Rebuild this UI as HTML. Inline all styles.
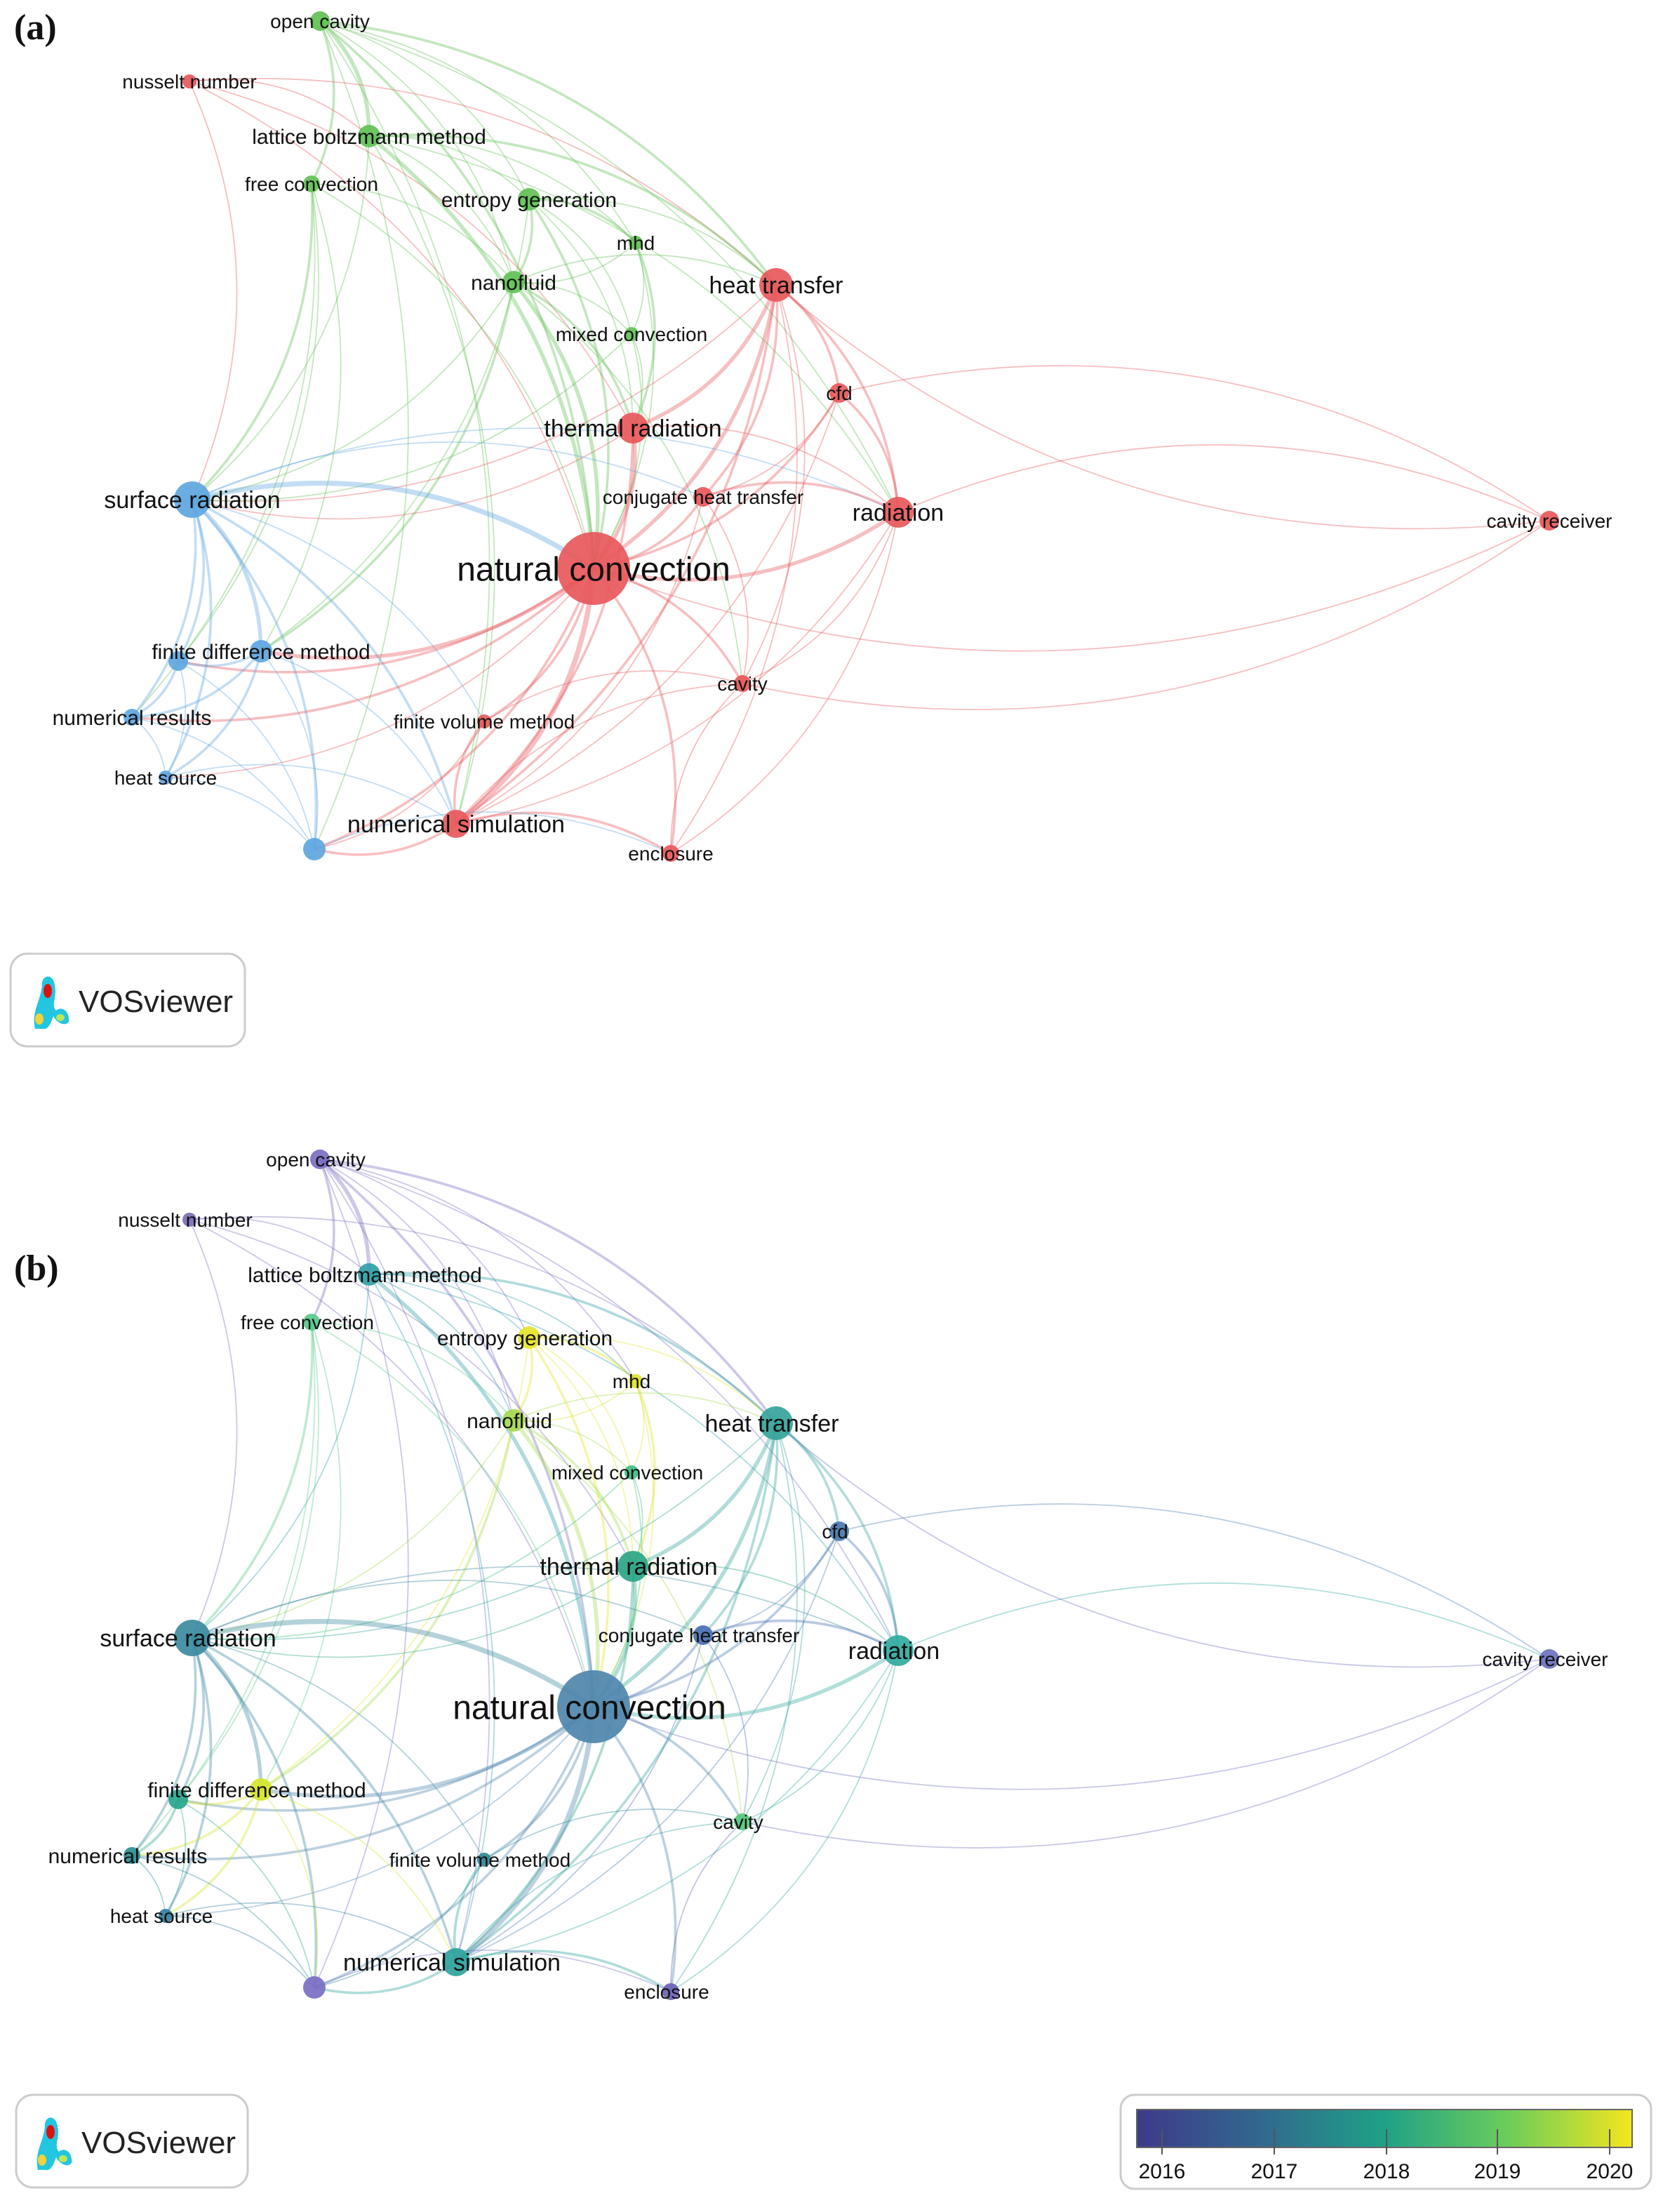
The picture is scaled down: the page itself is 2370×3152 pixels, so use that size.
<!DOCTYPE html>
<html><head><meta charset="utf-8">
<style>
html,body{margin:0;padding:0;background:#fff;}
svg{display:block;}
text{font-family:"Liberation Sans","DejaVu Sans",sans-serif;fill:#111;}
</style></head>
<body>
<svg id="s" width="2370" height="3152" viewBox="0 0 1185 1576" xmlns="http://www.w3.org/2000/svg">
<defs>
<linearGradient id="vir" x1="0" x2="1" y1="0" y2="0">
<stop offset="0" stop-color="#3e3a8a"/>
<stop offset="0.25" stop-color="#31688e"/>
<stop offset="0.5" stop-color="#1fa187"/>
<stop offset="0.75" stop-color="#6ccd5a"/>
<stop offset="1" stop-color="#f4e61e"/>
</linearGradient>
</defs>
<g id="edgesA"></g><g id="nodesA"></g>
<g id="edgesB"></g><g id="nodesB"></g>
<g id="labels"></g>
<text x="10" y="28" style="font-family:'Liberation Serif',serif;font-weight:bold;font-size:26px">(a)</text>
<text x="10" y="912" style="font-family:'Liberation Serif',serif;font-weight:bold;font-size:26px">(b)</text>
<!-- logos -->
<g>
<rect x="7.5" y="679.5" width="167" height="66" rx="12" fill="#fff" stroke="#ccc" stroke-width="1.5"/>
<path d="M25,733 C22,720 30,712 30,700 C31,694 38,694 39,702 C41,710 36,716 40,720 C45,716 50,722 49,728 C46,732 40,728 38,724 C36,730 34,734 30,733 Z" fill="#22c6e0"/>
<ellipse cx="34" cy="706" rx="3" ry="5" fill="#d11"/><ellipse cx="28" cy="726" rx="3" ry="4" fill="#f3d23a"/><ellipse cx="43" cy="725" rx="3" ry="2.5" fill="#b9e85a"/>
<text x="56" y="721" style="font-size:22px;fill:#222">VOSviewer</text>
</g>
<g>
<rect x="11.5" y="1492.5" width="165" height="66" rx="12" fill="#fff" stroke="#ccc" stroke-width="1.5"/>
<path d="M27,1546 C24,1533 32,1525 32,1513 C33,1507 40,1507 41,1515 C43,1523 38,1529 42,1533 C47,1529 52,1535 51,1541 C48,1545 42,1541 40,1537 C38,1543 36,1547 32,1546 Z" fill="#22c6e0"/>
<ellipse cx="36" cy="1519" rx="3" ry="5" fill="#d11"/><ellipse cx="30" cy="1539" rx="3" ry="4" fill="#f3d23a"/><ellipse cx="45" cy="1538" rx="3" ry="2.5" fill="#b9e85a"/>
<text x="58" y="1534" style="font-size:22px;fill:#222">VOSviewer</text>
</g>
<!-- legend -->
<g>
<rect x="798.5" y="1492.5" width="378" height="67" rx="10" fill="#fff" stroke="#ccc" stroke-width="1.5"/>
<rect x="810" y="1503" width="353" height="27" fill="url(#vir)" stroke="#666" stroke-width="1"/>
<g stroke="#555" stroke-width="1">
<line x1="828" y1="1517" x2="828" y2="1535"/><line x1="908" y1="1517" x2="908" y2="1535"/><line x1="988" y1="1517" x2="988" y2="1535"/><line x1="1067" y1="1517" x2="1067" y2="1535"/><line x1="1147" y1="1517" x2="1147" y2="1535"/>
</g>
<g style="font-size:15px" text-anchor="middle">
<text x="828" y="1552">2016</text><text x="908" y="1552">2017</text><text x="988" y="1552">2018</text><text x="1067" y="1552">2019</text><text x="1147" y="1552">2020</text>
</g>
</g>
</svg>
<script>
var R='#e8585b',G='#62c155',B='#5ea6e0';
var N=[
// name,x,y,r,colA,colB,fs
['open cavity',228,15,7,G,'#7a6fc2',14],
['nusselt number',135,58,5,R,'#7d6db8',14],
['lattice boltzmann method',263,97,8,G,'#2f9fa8',15],
['free convection',222,131,6,G,'#56c98a',14],
['entropy generation',377,142,8,G,'#e5e52a',15],
['mhd',453,173,5,G,'#dde32f',14],
['nanofluid',366,201,8,G,'#a6d94f',15],
['heat transfer',553,203,12,R,'#35a39a',17],
['mixed convection',450,238,5,G,'#3fbf82',14],
['cfd',598,280,7,R,'#4a7bb0',14],
['thermal radiation',451,305,11,R,'#2aa585',17],
['surface radiation',137,356,13,B,'#3c8aa0',17],
['conjugate heat transfer',501,354,7,R,'#4a6fb2',14],
['radiation',640,365,11,R,'#31aba0',17],
['cavity receiver',1104,371,7,R,'#6d72c0',14],
['natural convection',423,405,26,R,'#4f86ad',24],
['finite difference method',186,464,8,B,'#d5e52a',15],
['',127,471,7,B,'#27a58c',0],
['numerical results',94,511,6,B,'#2c8f95',15],
['cavity',529,487,6,R,'#55c77a',14],
['finite volume method',345,514,5,R,'#2e8a96',14],
['heat source',118,554,5,B,'#367fa0',14],
['numerical simulation',325,587,10,R,'#2ea29d',17],
['',224,605,8,B,'#7a6ec4',0],
['enclosure',478,608,6,R,'#6a62b4',14]
];
var idx={};N.forEach(function(n,i){if(n[0])idx[n[0]]=i;});idx['fd2']=17;idx['u']=23;
var E=[
['open cavity','lattice boltzmann method',3],['open cavity','free convection',2],['open cavity','heat transfer',2],['open cavity','natural convection',2],['open cavity','numerical simulation',1],['open cavity','radiation',1],['open cavity','entropy generation',1],['open cavity','nanofluid',1],['open cavity','u',1],['open cavity','mhd',1],
['nusselt number','heat transfer',1],['nusselt number','thermal radiation',1],['nusselt number','surface radiation',1],['nusselt number','natural convection',1],['nusselt number','lattice boltzmann method',1],
['lattice boltzmann method','natural convection',3],['lattice boltzmann method','heat transfer',2],['lattice boltzmann method','entropy generation',1],['lattice boltzmann method','nanofluid',1],['lattice boltzmann method','mhd',1],['lattice boltzmann method','surface radiation',1],['lattice boltzmann method','radiation',1],['lattice boltzmann method','numerical simulation',1],
['free convection','surface radiation',2],['free convection','natural convection',1],['free convection','fd2',1],['free convection','finite difference method',1],['free convection','numerical results',1],['free convection','nanofluid',1],
['entropy generation','nanofluid',2],['entropy generation','mhd',2],['entropy generation','heat transfer',1],['entropy generation','natural convection',2],['entropy generation','thermal radiation',1],['entropy generation','finite difference method',1],['entropy generation','mixed convection',1],
['mhd','nanofluid',1],['mhd','thermal radiation',2],['mhd','natural convection',1],['mhd','mixed convection',1],
['nanofluid','natural convection',3],['nanofluid','thermal radiation',2],['nanofluid','heat transfer',1],['nanofluid','finite difference method',2],['nanofluid','surface radiation',1],['nanofluid','mixed convection',1],['nanofluid','cavity',1],
['heat transfer','natural convection',3],['heat transfer','thermal radiation',3],['heat transfer','radiation',2],['heat transfer','cfd',2],['heat transfer','conjugate heat transfer',2],['heat transfer','numerical simulation',2],['heat transfer','cavity',1],['heat transfer','surface radiation',1],['heat transfer','enclosure',1],
['mixed convection','natural convection',1],['mixed convection','thermal radiation',1],['mixed convection','surface radiation',1],
['cfd','radiation',2],['cfd','natural convection',2],['cfd','cavity receiver',1],['cfd','conjugate heat transfer',1],['cfd','numerical simulation',1],
['thermal radiation','natural convection',3],['thermal radiation','radiation',1],['thermal radiation','numerical simulation',2],['thermal radiation','surface radiation',1],
['surface radiation','natural convection',4],['surface radiation','finite difference method',3],['surface radiation','fd2',2],['surface radiation','numerical results',2],['surface radiation','heat source',2],['surface radiation','u',2],['surface radiation','numerical simulation',2],['surface radiation','conjugate heat transfer',1],['surface radiation','radiation',1],['surface radiation','finite volume method',1],
['conjugate heat transfer','natural convection',2],['conjugate heat transfer','radiation',2],['conjugate heat transfer','numerical simulation',1],['conjugate heat transfer','cavity',1],
['radiation','natural convection',3],['radiation','cavity receiver',1],['radiation','cavity',1],['radiation','enclosure',1],['radiation','numerical simulation',1],
['cavity receiver','natural convection',1],['cavity receiver','heat transfer',1],['cavity receiver','cavity',1],
['natural convection','finite difference method',3],['natural convection','fd2',2],['natural convection','numerical results',2],['natural convection','heat source',1],['natural convection','numerical simulation',4],['natural convection','u',2],['natural convection','enclosure',2],['natural convection','cavity',2],['natural convection','finite volume method',2],
['finite difference method','fd2',2],['finite difference method','numerical results',2],['finite difference method','heat source',2],['finite difference method','u',1],['finite difference method','numerical simulation',1],
['fd2','numerical results',2],['fd2','heat source',1],['fd2','u',1],
['numerical results','heat source',1],['numerical results','u',1],['heat source','u',1],['heat source','numerical simulation',1],
['numerical simulation','u',2],['numerical simulation','enclosure',2],['numerical simulation','finite volume method',2],['numerical simulation','cavity',1],
['u','enclosure',1],['enclosure','cavity',1],['finite volume method','cavity',1],['finite volume method','u',1]
];
var ns='http://www.w3.org/2000/svg';
function el(t,a,p){var e=document.createElementNS(ns,t);for(var k in a)e.setAttribute(k,a[k]);p.appendChild(e);return e;}
function draw(off,ci,eg,ng){
  var ge=document.getElementById(eg),gn=document.getElementById(ng);
  E.forEach(function(e){
    var a=N[idx[e[0]]],b=N[idx[e[1]]];
    var x1=a[1],y1=a[2]+off,x2=b[1],y2=b[2]+off;
    var dx=x2-x1,dy=y2-y1;
    var cx=(x1+x2)/2+dy*0.22,cy=(y1+y2)/2-dx*0.22;
    var col=a[ci];
    el('path',{d:'M'+x1+','+y1+' Q'+cx+','+cy+' '+x2+','+y2,fill:'none',stroke:col,'stroke-width':e[2]*0.9,'stroke-opacity':0.38},ge);
  });
  N.forEach(function(n){
    el('circle',{cx:n[1],cy:n[2]+off,r:n[3],fill:n[ci],'fill-opacity':0.92},gn);
  });
}
draw(0,4,'edgesA','nodesA');
draw(811,5,'edgesB','nodesB');
var gl=document.getElementById('labels');
[0,811].forEach(function(off){
  N.forEach(function(n){
    if(!n[0])return;
    var t=el('text',{x:n[1]-(off?3:0),y:n[2]+off+n[6]*0.36,'text-anchor':'middle','font-size':n[6]},gl);
    t.textContent=n[0];
  });
});
</script>
</body></html>
